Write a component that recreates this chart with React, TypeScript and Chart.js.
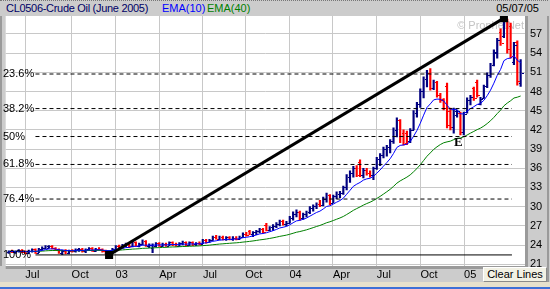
import React, { useEffect, useRef } from 'react';
import { Chart, registerables } from 'chart.js';
Chart.register(...registerables);

const FONT = '"Liberation Sans", Arial, Helvetica, sans-serif';

// Weekly OHLC, CL0506 (June 2005 crude), late May 2002 .. 05/07/05
const opens = [
  22.9, 23.0, 22.9, 23.0, 23.2, 22.9, 22.8, 23.1, 23.3, 22.8,
  23.4, 23.5, 23.6, 23.8, 23.5, 23.2, 22.8, 23.1, 22.7, 23.1,
  23.0, 23.3, 23.4, 23.0, 23.3, 23.5, 23.1, 23.4, 23.3, 23.0,
  22.8, 23.0, 23.4, 23.8, 23.6, 24.0, 24.2, 23.8, 24.4, 23.9,
  24.1, 24.6, 23.9, 23.5, 23.9, 24.3, 23.9, 24.2, 23.9, 24.4,
  24.1, 23.9, 24.3, 24.4, 24.0, 24.4, 24.1, 24.3, 24.2, 24.8,
  24.5, 24.8, 25.3, 25.0, 25.3, 24.9, 25.2, 24.9, 25.1, 25.0,
  25.3, 25.8, 26.2, 25.7, 26.0, 26.2, 26.5, 27.2, 26.4, 26.8,
  27.0, 27.3, 27.7, 27.3, 27.5, 28.3, 28.9, 29.1, 28.2, 28.8,
  29.1, 29.8, 30.1, 30.4, 30.2, 31.2, 31.8, 30.6, 31.6, 32.0,
  32.1, 33.0, 34.7, 35.3, 36.0, 37.0, 35.0, 35.8, 35.2, 34.9,
  36.0, 37.5, 38.0, 39.0, 39.4, 40.2, 42.0, 43.5, 41.5, 41.5,
  40.3, 42.0, 44.7, 46.0, 48.1, 50.0, 50.9, 48.6, 49.5, 47.4,
  46.8, 48.8, 45.0, 42.5, 44.3, 44.6, 41.6, 44.8, 46.7, 48.5,
  49.5, 46.0, 47.0, 48.8, 50.6, 52.1, 54.0, 57.3, 56.6, 59.0,
  58.2, 52.6, 55.7, 49.3,
];
const highs = [
  23.1, 23.2, 23.1, 23.3, 23.3, 23.1, 23.2, 23.4, 23.4, 23.5,
  23.7, 23.9, 23.9, 23.9, 23.6, 23.4, 23.2, 23.3, 23.2, 23.3,
  23.4, 23.5, 23.5, 23.4, 23.6, 23.6, 23.5, 23.6, 23.4, 23.2,
  23.1, 23.5, 23.9, 24.0, 24.1, 24.3, 24.3, 24.5, 24.5, 24.3,
  24.8, 24.7, 24.2, 24.2, 24.4, 24.4, 24.3, 24.3, 24.5, 24.5,
  24.3, 24.4, 24.6, 24.5, 24.5, 24.5, 24.4, 24.5, 24.9, 24.9,
  24.9, 25.4, 25.5, 25.4, 25.4, 25.3, 25.3, 25.3, 25.3, 25.4,
  25.9, 26.0, 26.3, 26.1, 26.3, 26.6, 26.6, 27.4, 26.9, 27.2,
  27.5, 27.9, 27.9, 27.7, 28.5, 29.2, 29.5, 29.3, 29.0, 29.3,
  30.0, 30.3, 30.6, 31.0, 31.5, 32.1, 31.9, 31.8, 32.3, 32.4,
  33.2, 35.0, 35.6, 36.3, 36.4, 37.3, 36.0, 36.0, 35.6, 36.2,
  37.7, 38.3, 39.3, 39.6, 40.5, 42.3, 43.9, 43.6, 42.0, 41.8,
  42.2, 45.0, 46.3, 48.4, 50.3, 51.3, 51.6, 49.8, 49.6, 47.7,
  46.9, 49.3, 45.4, 45.4, 45.1, 44.8, 44.8, 47.0, 47.4, 48.7,
  49.8, 47.1, 49.0, 50.9, 52.4, 54.5, 56.3, 57.8, 59.47, 59.3,
  58.7, 55.7, 55.9, 53.0,
];
const lows = [
  22.7, 22.8, 22.7, 22.9, 22.8, 22.6, 22.7, 22.9, 22.7, 22.8,
  23.2, 23.4, 23.5, 23.4, 23.1, 22.7, 22.5, 22.6, 22.6, 22.9,
  22.9, 23.0, 22.9, 22.8, 23.1, 23.0, 23.0, 23.2, 22.9, 22.6,
  22.45, 22.9, 23.3, 23.4, 23.5, 23.7, 23.6, 23.7, 23.8, 23.7,
  24.0, 23.8, 23.6, 22.8, 23.7, 23.8, 23.8, 23.8, 23.9, 23.9,
  23.8, 23.8, 24.0, 23.9, 23.9, 23.9, 23.9, 24.0, 24.2, 24.3,
  24.4, 24.7, 24.9, 24.8, 24.8, 24.7, 24.8, 24.7, 24.8, 24.9,
  25.2, 25.4, 25.6, 25.3, 25.6, 25.9, 25.9, 26.2, 26.2, 26.3,
  26.7, 27.0, 27.1, 27.0, 27.4, 27.9, 28.4, 27.9, 28.0, 28.4,
  28.9, 29.3, 29.7, 30.0, 30.1, 30.7, 30.3, 30.6, 31.2, 31.4,
  31.9, 32.6, 33.8, 34.6, 34.7, 34.7, 34.5, 34.9, 34.6, 34.2,
  35.8, 36.4, 37.6, 37.9, 38.4, 39.9, 40.9, 40.0, 39.6, 39.7,
  40.0, 42.0, 44.0, 45.5, 47.0, 48.7, 48.2, 48.3, 47.1, 46.3,
  45.1, 42.3, 42.0, 41.5, 44.0, 41.2, 41.2, 44.6, 45.9, 46.6,
  47.1, 45.9, 46.9, 48.6, 50.2, 52.0, 53.2, 55.2, 56.4, 54.0,
  53.2, 52.2, 49.0, 48.8,
];
const closes = [
  23.0, 22.9, 23.0, 23.2, 22.9, 22.8, 23.1, 23.3, 22.8, 23.4,
  23.6, 23.8, 23.8, 23.5, 23.2, 22.8, 23.1, 22.7, 23.1, 23.0,
  23.3, 23.4, 23.0, 23.3, 23.5, 23.1, 23.4, 23.3, 23.0, 22.8,
  23.0, 23.4, 23.8, 23.6, 24.0, 24.2, 23.8, 24.4, 23.9, 24.1,
  24.6, 23.9, 24.0, 23.9, 24.3, 23.9, 24.2, 23.9, 24.4, 24.1,
  23.9, 24.3, 24.4, 24.0, 24.4, 24.1, 24.3, 24.2, 24.8, 24.5,
  24.8, 25.3, 25.0, 25.3, 24.9, 25.2, 24.9, 25.1, 25.0, 25.3,
  25.8, 25.5, 25.7, 26.0, 26.2, 26.5, 26.1, 26.4, 26.8, 27.0,
  27.3, 27.7, 27.3, 27.5, 28.3, 28.9, 29.1, 28.2, 28.8, 29.1,
  29.8, 30.1, 30.4, 30.2, 31.2, 31.8, 30.6, 31.6, 32.0, 32.1,
  33.0, 34.7, 35.3, 36.0, 35.0, 35.0, 35.8, 35.2, 34.9, 36.0,
  37.5, 38.0, 39.0, 39.4, 40.2, 42.0, 43.5, 41.0, 40.0, 40.3,
  42.0, 44.7, 46.0, 48.1, 50.0, 50.9, 48.6, 49.5, 47.4, 46.6,
  45.4, 42.8, 42.5, 45.0, 44.9, 41.6, 44.5, 46.7, 47.2, 47.0,
  47.5, 46.9, 48.8, 50.6, 52.1, 54.2, 56.0, 55.6, 59.0, 54.6,
  53.6, 55.3, 49.6, 50.9,
];

// Quarter boundaries (week index) and their labels
const quarterTickPos = [4.95, 18.8, 31.95, 45, 58.05, 70.7, 83.9, 96.9, 110, 123.05, 136.1];
const quarterTickLabels = ['Jul', 'Oct', '03', 'Apr', 'Jul', 'Oct', '04', 'Apr', 'Jul', 'Oct', '05'];
const priceTicks = [21, 24, 27, 30, 33, 36, 39, 42, 45, 48, 51, 54, 57];

// Fibonacci retracement drawn from the swing low to the swing high
const fibRatios = [0.236, 0.382, 0.5, 0.618, 0.764, 1];
const fibLabels = ['23.6%', '38.2%', '50%', '61.8%', '76.4%', '100%'];
const fibSpan = [8, 150.4];
const swingLow = { idx: 30, value: 22.45 };
const swingHigh = { idx: 148, value: 59.47 };
const markE = { idx: 134.4, value: 39.95, text: 'E' };

const xRange = [-0.9, 154.3];
const yRange = [20.72, 59.8];

const NAVY = '#000080';
const RED = '#ff0000';

function ema(values: number[], n: number): number[] {
  const k = 2 / (n + 1);
  const out: number[] = [];
  let prev = values[0];
  values.forEach((v, i) => {
    prev = i === 0 ? v : v * k + prev * (1 - k);
    out.push(prev);
  });
  return out;
}

export default function App() {
  const ref = useRef<HTMLCanvasElement>(null);

  useEffect(() => {
    const canvas = ref.current;
    if (!canvas) return;
    const ema10 = ema(closes, 10);
    const ema40 = ema(closes, 40);
    const barColors = closes.map((c, i) => (c >= opens[i] ? NAVY : RED));
    const fibValues = fibRatios.map((r) => swingHigh.value - r * (swingHigh.value - swingLow.value));

    const fibDatasets = fibValues.map((v, k) => ({
      type: 'line' as const,
      data: [
        { x: fibSpan[0], y: v },
        { x: fibSpan[1], y: v },
      ],
      borderColor: '#000',
      borderWidth: 1,
      borderDash: fibRatios[k] === 1 ? [] : [4, 3],
      pointRadius: 0,
      order: 2,
    }));

    const framePlugin = {
      id: 'frame',
      beforeDraw(chart: any) {
        const { ctx, chartArea: a, width, height } = chart;
        ctx.save();
        ctx.fillStyle = '#cccccc';
        ctx.fillRect(0, 0, width, height);
        ctx.fillStyle = '#ffffff';
        ctx.fillRect(a.left, a.top, a.right - a.left, a.bottom - a.top);
        ctx.fillStyle = '#9a9a9a';
        ctx.fillRect(a.right, a.top, 3, a.bottom - a.top + 3);
        ctx.fillRect(a.left, a.bottom, a.right - a.left, 3);
        ctx.fillRect(0, a.top, 2, a.bottom - a.top);
        ctx.fillRect(width - 3, a.top, 2, height - a.top);
        ctx.restore();
      },
      beforeDatasetsDraw(chart: any) {
        const { ctx, chartArea: a } = chart;
        ctx.save();
        ctx.font = '11px ' + FONT;
        ctx.fillStyle = '#c4c4c4';
        ctx.textBaseline = 'middle';
        ctx.textAlign = 'right';
        ctx.fillText('\u00A9 ProphetNet', a.right - 1, a.top + 10);
        ctx.restore();
      },
      afterDatasetDraw(chart: any, args: any) {
        if (args.index !== 0) return;
        const { ctx, scales } = chart;
        const x = scales.x;
        const y = scales.y;
        ctx.save();
        closes.forEach((c, i) => {
          const px = Math.round(x.getPixelForValue(i));
          ctx.fillStyle = barColors[i];
          const yo = Math.round(y.getPixelForValue(opens[i]));
          const yc = Math.round(y.getPixelForValue(c));
          ctx.fillRect(px - 2, yo, 2, 1);
          ctx.fillRect(px + 1, yc, 2, 1);
        });
        ctx.restore();
      },
      afterDatasetsDraw(chart: any) {
        const { ctx, scales } = chart;
        const y = scales.y;
        const x = scales.x;
        ctx.save();
        ctx.font = '11px ' + FONT;
        ctx.fillStyle = '#000';
        ctx.textAlign = 'left';
        ctx.textBaseline = 'middle';
        fibValues.forEach((v, k) => {
          ctx.fillText(fibLabels[k], 3, y.getPixelForValue(v));
        });
        ctx.font = 'bold 13px "Liberation Serif", "DejaVu Serif", serif';
        ctx.textAlign = 'center';
        ctx.fillText(markE.text, x.getPixelForValue(markE.idx), y.getPixelForValue(markE.value));
        ctx.restore();
      },
    };

    const chart = new Chart(canvas, {
      type: 'bar',
      data: {
        datasets: [
          {
            type: 'bar',
            data: closes.map((_, i) => ({ x: i, y: [lows[i], highs[i]] })) as any,
            backgroundColor: barColors,
            barThickness: 1.5,
            grouped: false,
            order: 5,
          } as any,
          {
            type: 'line',
            data: ema10.map((v, i) => ({ x: i, y: v })),
            borderColor: '#0000ff',
            borderWidth: 1,
            pointRadius: 0,
            order: 4,
          },
          {
            type: 'line',
            data: ema40.map((v, i) => ({ x: i, y: v })),
            borderColor: '#008000',
            borderWidth: 1,
            pointRadius: 0,
            order: 4,
          },
          ...fibDatasets,
          {
            type: 'line',
            data: [
              { x: swingLow.idx, y: swingLow.value },
              { x: swingHigh.idx, y: swingHigh.value },
            ],
            borderColor: '#000',
            borderWidth: 3,
            pointRadius: 0,
            order: 1,
          },
          {
            type: 'scatter',
            data: [
              { x: swingLow.idx, y: swingLow.value },
              { x: swingHigh.idx, y: swingHigh.value },
            ],
            pointStyle: 'rect',
            pointRadius: 5.7,
            backgroundColor: '#000',
            borderWidth: 0,
            order: 0,
          } as any,
        ],
      },
      options: {
        animation: false,
        responsive: false,
        devicePixelRatio: 1,
        layout: { padding: { left: 2, right: 2, top: 16, bottom: 0 } },
        plugins: { legend: { display: false }, tooltip: { enabled: false }, title: { display: false } },
        scales: {
          x: {
            type: 'linear',
            min: xRange[0],
            max: xRange[1],
            offset: false,
            afterBuildTicks: (s: any) => {
              s.ticks = quarterTickPos.map((v) => ({ value: v }));
            },
            afterFit: (s: any) => {
              s.height = 23;
            },
            ticks: {
              autoSkip: false,
              maxRotation: 0,
              align: 'start',
              padding: 2,
              color: '#000',
              font: { family: FONT, size: 11 },
              callback: (_v: any, idx: number) => quarterTickLabels[idx],
            },
            grid: { color: '#c8c8c8', drawTicks: false, offset: false },
            border: { display: false },
          },
          y: {
            type: 'linear',
            position: 'right',
            min: yRange[0],
            max: yRange[1],
            afterBuildTicks: (s: any) => {
              s.ticks = priceTicks.map((v) => ({ value: v }));
            },
            afterFit: (s: any) => {
              s.width = 23;
            },
            ticks: {
              padding: 5,
              color: '#000',
              font: { family: FONT, size: 11 },
              callback: (v: any) => String(v),
            },
            grid: { color: '#c8c8c8', drawTicks: false },
            border: { display: false },
          },
        },
      } as any,
      plugins: [framePlugin],
    });
    return () => chart.destroy();
  }, []);

  return (
    <div
      style={{
        position: 'fixed',
        left: 0,
        top: 0,
        width: 550,
        height: 289,
        overflow: 'hidden',
        background: '#cccccc',
        fontFamily: FONT,
        fontSize: 11,
      }}
    >
      <canvas
        ref={ref}
        width={550}
        height={289}
        style={{ position: 'absolute', left: 0, top: 0, width: 550, height: 289, display: 'block' }}
      />
      <div
        style={{
          position: 'absolute',
          left: 0,
          top: 0,
          width: 548,
          height: 15,
          background: '#cccccc',
          borderTop: '1px dotted #777',
          boxSizing: 'border-box',
          lineHeight: '14px',
          whiteSpace: 'nowrap',
        }}
      >
        <span style={{ position: 'absolute', left: 6, color: '#000066', letterSpacing: '-0.3px' }}>
          CL0506-Crude Oil (June 2005)
        </span>
        <span style={{ position: 'absolute', left: 162, color: '#0000ff' }}>EMA(10)</span>
        <span style={{ position: 'absolute', left: 207, color: '#008000' }}>EMA(40)</span>
        <span style={{ position: 'absolute', right: 9, color: '#000' }}>05/07/05</span>
      </div>
      <div
        style={{
          position: 'absolute',
          left: 483,
          top: 267,
          width: 64,
          height: 15,
          background: '#f2f1e4',
          borderTop: '1px solid #ffffff',
          borderLeft: '1px solid #ffffff',
          borderRight: '1px solid #8a8a8a',
          borderBottom: '1px solid #8a8a8a',
          boxSizing: 'border-box',
          textAlign: 'center',
          lineHeight: '13px',
          color: '#000',
          whiteSpace: 'nowrap',
        }}
      >
        Clear Lines
      </div>
      <div style={{ position: 'absolute', left: 0, top: 282, width: 550, height: 5, background: '#e6e0cc' }} />
      <div style={{ position: 'absolute', left: 0, top: 287, width: 550, height: 2, background: '#3d6fd6' }} />
    </div>
  );
}
